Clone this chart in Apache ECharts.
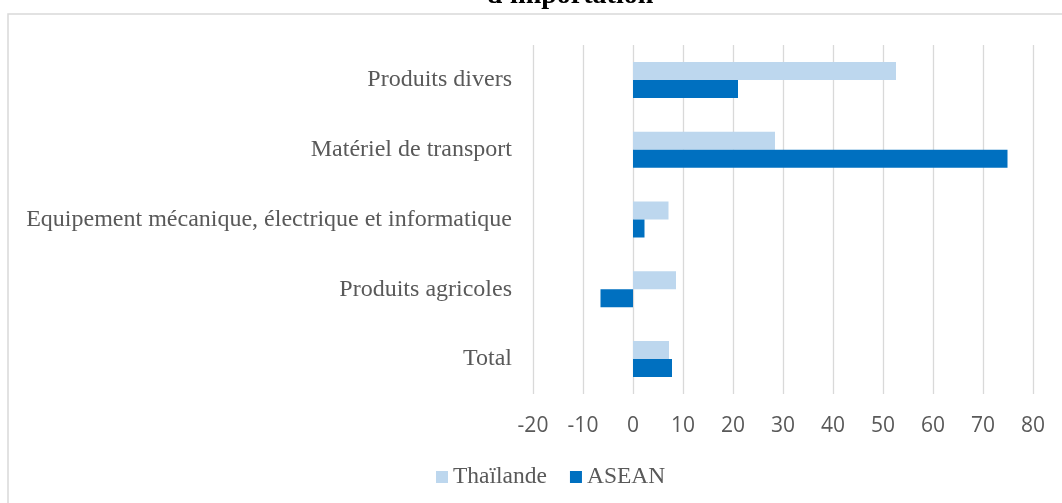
<!DOCTYPE html>
<html>
<head>
<meta charset="utf-8">
<script src="https://cdn.jsdelivr.net/npm/echarts@6/dist/echarts.min.js"></script>
<style>
  html, body { margin: 0; padding: 0; background: #fff; }
  #chart { width: 1062px; height: 503px; }
</style>
</head>
<body>
<div id="chart"></div>
<script>
// categories, bottom to top
const categories = [
  'Total',
  'Produits agricoles',
  'Equipement mécanique, électrique et informatique',
  'Matériel de transport',
  'Produits divers'
]
const thailande = [7.2, 8.6, 7.1, 28.4, 52.6]
const asean = [7.8, -6.5, 2.3, 74.9, 21.0]
const xTicks = { min: -20, max: 80, interval: 10 }

const grey = '#595959'
const serif = '"Liberation Serif", "DejaVu Serif", serif'

const chart = echarts.init(document.getElementById('chart'))
const option = {
  animation: false,
  graphic: [
    {
      type: 'rect',
      shape: { x: 8, y: 14, width: 1100, height: 520 },
      style: { fill: 'none', stroke: '#d9d9d9', lineWidth: 1.5 },
      silent: true
    },
    {
      type: 'text',
      style: {
        x: 570,
        y: 10,
        text: "d'importation",
        textAlign: 'center',
        textVerticalAlign: 'bottom',
        font: 'bold 28px ' + serif,
        fill: '#000'
      },
      silent: true
    }
  ],
  legend: {
    bottom: 9,
    left: 431,
    itemWidth: 12,
    itemHeight: 12,
    itemGap: 23,
    icon: 'rect',
    textStyle: { fontFamily: serif, fontSize: 23.5, color: grey }
  },
  grid: {
    left: 533,
    right: 29,
    top: 45,
    bottom: 109
  },
  xAxis: {
    type: 'value',
    min: xTicks.min,
    max: xTicks.max,
    interval: xTicks.interval,
    axisLine: { show: false },
    axisTick: { show: false },
    axisLabel: {
      margin: 22,
      fontFamily: '"Open Sans", sans-serif',
      fontSize: 21,
      color: grey
    },
    splitLine: { lineStyle: { color: '#d9d9d9', width: 1.3 } }
  },
  yAxis: {
    type: 'category',
    data: categories,
    axisLine: { show: false },
    axisTick: { show: false },
    axisLabel: {
      margin: 21,
      fontFamily: serif,
      fontSize: 24,
      color: grey
    }
  },
  series: [
    {
      name: 'Thaïlande',
      type: 'bar',
      data: thailande,
      barWidth: 18,
      barGap: '0%',
      itemStyle: { color: '#bdd7ee' }
    },
    {
      name: 'ASEAN',
      type: 'bar',
      data: asean,
      barWidth: 18,
      barGap: '0%',
      itemStyle: { color: '#0070c0' }
    }
  ]
}
chart.setOption(option)
window.addEventListener('resize', () => chart.resize())
</script>
</body>
</html>
